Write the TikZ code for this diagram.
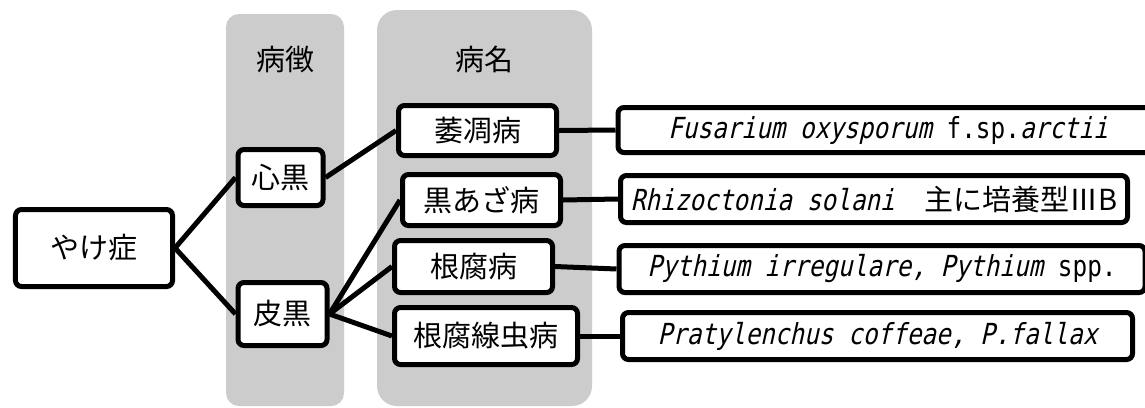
\documentclass[tikz,border=0pt]{standalone}
\usepackage{fontspec}
\newfontfamily\jp{Noto Sans CJK JP}
\newfontfamily\lat[FakeStretch=0.84]{DejaVu Sans Mono}
\newfontfamily\latit[FakeStretch=0.84,FakeSlant=0.22]{DejaVu Sans Mono}
\definecolor{colgray}{RGB}{204,204,204}
\tikzset{
  box/.style={draw=black, line width=5bp, fill=white, rounded corners=6bp,
    inner sep=0pt, font=\jp\fontsize{29bp}{34bp}\selectfont},
  col/.style={fill=colgray, draw=none},
  conn/.style={line width=5bp, draw=black},
  lbl/.style={font=\jp\fontsize{29bp}{34bp}\selectfont, inner sep=0pt}
}
\begin{document}
\begin{tikzpicture}[x=1bp,y=-1bp]
\useasboundingbox (0,0) rectangle (1145,407);
\fill[white] (0,0) rectangle (1145,407);
% columns
\fill[col, rounded corners=13bp] (226,14) rectangle (344,406);
\fill[col, rounded corners=20bp] (377,10) rectangle (592,406);
\node[lbl] (lab1) at (285,60) {病徴};
\node[lbl] (lab2) at (484,59) {病名};
% nodes
\node[box, minimum width=157bp, minimum height=77bp] (yake) at (94,248) {やけ症};
\node[box, minimum width=85bp, minimum height=56bp] (shin) at (280.5,177.5) {心黒};
\node[box, minimum width=89bp, minimum height=63bp] (kawa) at (282.5,314) {皮黒};
\node[box, minimum width=158bp, minimum height=50bp] (ichou) at (477.5,130.5) {萎凋病};
\node[box, minimum width=158bp, minimum height=51bp] (kuro) at (481.5,200) {黒あざ病};
\node[box, minimum width=158bp, minimum height=52bp] (negu) at (473.5,266.5) {根腐病};
\node[box, minimum width=183bp, minimum height=57bp] (sen) at (486,336) {根腐線虫病};
\node[box, minimum width=540bp, minimum height=45bp] (fus) at (888,130)
  {{\latit Fusarium oxysporum}{\lat\ f.sp.}{\latit arctii}};
\node[box, minimum width=507bp, minimum height=47bp] (rhi) at (874,199)
  {{\latit Rhizoctonia solani}{\lat\ \ }主に培養型ⅢB};
\node[box, minimum width=526bp, minimum height=47bp] (pyt) at (882,269)
  {{\latit Pythium irregulare, Pythium}{\lat\ spp.}};
\node[box, minimum width=510bp, minimum height=47bp] (pra) at (877.5,336)
  {{\latit Pratylenchus coffeae, P.fallax}};
% connectors
\draw[conn] (yake.east) -- (shin.west);
\draw[conn] (yake.east) -- (kawa.west);
\draw[conn] (shin.east) -- (ichou.west);
\draw[conn] (kawa.east) -- (kuro.west);
\draw[conn] (kawa.east) -- (negu.west);
\draw[conn] (kawa.east) -- (sen.west);
\draw[conn] (ichou.east) -- (fus.west);
\draw[conn] (kuro.east) -- (rhi.west);
\draw[conn] (negu.east) -- (pyt.west);
\draw[conn] (sen.east) -- (pra.west);
\end{tikzpicture}
\end{document}
